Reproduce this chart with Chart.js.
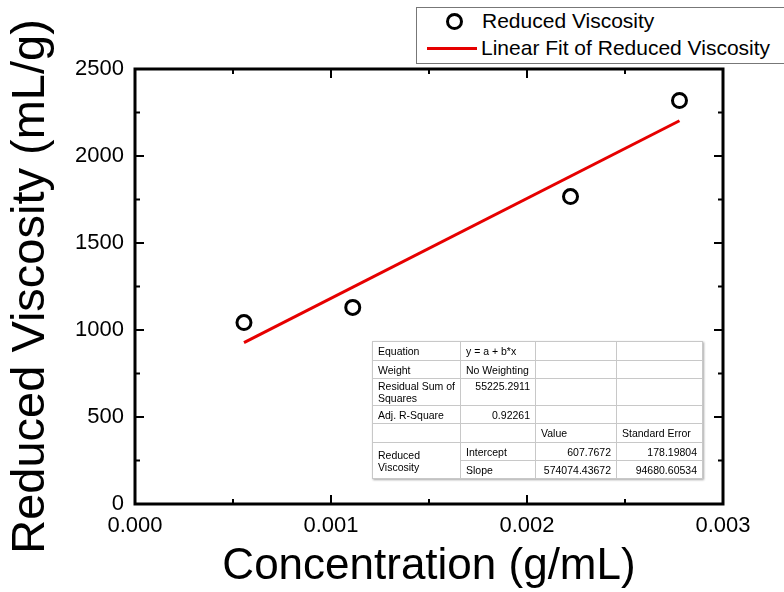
<!DOCTYPE html>
<html>
<head>
<meta charset="utf-8">
<title>Reduced Viscosity vs Concentration</title>
<script src="https://cdn.jsdelivr.net/npm/chart.js@4.4.1/dist/chart.umd.min.js"></script>
<style>
  html, body { margin: 0; padding: 0; background: #fff; }
  #wrap {
    position: relative; width: 784px; height: 592px; overflow: hidden;
    font-family: "Liberation Sans", Arial, sans-serif; color: #000;
  }
  #chart { position: absolute; left: 0; top: 0; }

  .legend {
    position: absolute; left: 416px; top: 7px; width: 400px; height: 55px;
    border: 1px solid #777; background: #fff;
  }
  .legend .mk {
    position: absolute; left: 29px; top: 5px; width: 17px; height: 17px;
    box-sizing: border-box; border: 3px solid #000; border-radius: 50%;
  }
  .legend .ln {
    position: absolute; left: 10px; top: 39px; width: 50px; height: 3px; background: #e60000;
  }
  .legend .lt {
    position: absolute; left: 65px; font-size: 21px; line-height: 24px; white-space: nowrap;
  }

  table.stats {
    position: absolute; left: 372px; top: 341px; width: 330px;
    border-collapse: collapse; table-layout: fixed; background: #fff;
    font-family: "Liberation Sans", Arial, sans-serif; font-size: 10.5px; line-height: 12px;
    border: 1px solid #999; box-shadow: 1px 1px 2px rgba(0,0,0,0.35);
  }
  table.stats td {
    border: 1px solid #c8c8c8; padding: 0 5px; white-space: nowrap; overflow: hidden;
    vertical-align: middle;
  }
  table.stats td.r { text-align: right; }
  table.stats td.top { vertical-align: top; padding-top: 1px; }
</style>
</head>
<body>
<div id="wrap">
  <canvas id="chart" width="784" height="592"></canvas>

  <div class="legend">
    <span class="mk"></span><span class="lt" style="top:1px">Reduced Viscosity</span>
    <span class="ln"></span><span class="lt" style="top:28px;left:64px">Linear Fit of Reduced Viscosity</span>
  </div>

  <table class="stats" id="stats">
    <colgroup><col style="width:88px"><col style="width:75px"><col style="width:81px"><col style="width:86px"></colgroup>
  </table>
</div>

<script>
// measured points
const concentration = [0.000556, 0.001111, 0.002222, 0.002778];   // g/mL
const reducedViscosity = [1043, 1130, 1767, 2319];                // mL/g

// linear fit results (y = a + b*x)
const intercept = 607.7672;
const slope = 574074.43672;
const interceptErr = 178.19804;
const slopeErr = 94680.60534;
const residualSS = '55225.2911';
const adjRSquare = '0.92261';

// axis ticks
const xTickValues = [0, 0.001, 0.002, 0.003];
const xTickLabels = ['0.000', '0.001', '0.002', '0.003'];
const xMinorValues = [0.0005, 0.0015, 0.0025];
const yTickValues = [0, 500, 1000, 1500, 2000, 2500];
const yTickLabels = ['0', '500', '1000', '1500', '2000', '2500'];
const yMinorValues = [250, 750, 1250, 1750, 2250];

// fit line spans the measured range
const fitX = [concentration[0], concentration[concentration.length - 1]];
const fitPoints = fitX.map(x => ({ x: x, y: intercept + slope * x }));

// stats table
const rows = [
  ['<td>Equation</td><td>y = a + b*x</td><td></td><td></td>', 19],
  ['<td>Weight</td><td>No Weighting</td><td></td><td></td>', 18],
  ['<td class="top">Residual Sum of<br>Squares</td><td class="r top">' + residualSS + '</td><td></td><td></td>', 27],
  ['<td>Adj. R-Square</td><td class="r">' + adjRSquare + '</td><td></td><td></td>', 18],
  ['<td></td><td></td><td>Value</td><td>Standard Error</td>', 19],
  ['<td rowspan="2">Reduced<br>Viscosity</td><td>Intercept</td><td class="r">' + intercept.toFixed(4) +
    '</td><td class="r">' + interceptErr.toFixed(5) + '</td>', 18],
  ['<td>Slope</td><td class="r">' + slope.toFixed(5) + '</td><td class="r">' + slopeErr.toFixed(5) + '</td>', 18]
];
const table = document.getElementById('stats');
rows.forEach(([html, h]) => {
  const tr = document.createElement('tr');
  tr.style.height = h + 'px';
  tr.innerHTML = html;
  table.appendChild(tr);
});

// frame on all four sides with inward major/minor ticks, mirrored
const frameTicks = {
  id: 'frameTicks',
  afterDraw(chart) {
    const { ctx, chartArea: a, scales } = chart;
    const xs = scales.x, ys = scales.y;
    ctx.save();
    ctx.strokeStyle = '#000';
    ctx.lineWidth = 2;
    const tick = (vals, len) => {
      vals.forEach(v => {
        const px = xs.getPixelForValue(v);
        ctx.beginPath();
        ctx.moveTo(px, a.bottom); ctx.lineTo(px, a.bottom - len);
        ctx.moveTo(px, a.top); ctx.lineTo(px, a.top + len);
        ctx.stroke();
      });
    };
    const ytick = (vals, len) => {
      vals.forEach(v => {
        const py = ys.getPixelForValue(v);
        ctx.beginPath();
        ctx.moveTo(a.left, py); ctx.lineTo(a.left + len, py);
        ctx.moveTo(a.right, py); ctx.lineTo(a.right - len, py);
        ctx.stroke();
      });
    };
    tick(xTickValues, 9);
    tick(xMinorValues, 5);
    ytick(yTickValues, 9);
    ytick(yMinorValues, 5);
    ctx.lineWidth = 3;
    ctx.strokeRect(a.left, a.top, a.right - a.left, a.bottom - a.top);
    ctx.restore();
  }
};

const tickFont = { family: '"Liberation Sans", Arial, sans-serif', size: 22 };

new Chart(document.getElementById('chart').getContext('2d'), {
  type: 'scatter',
  data: {
    datasets: [
      {
        label: 'Linear Fit of Reduced Viscosity',
        type: 'line',
        data: fitPoints,
        borderColor: '#e60000',
        borderWidth: 3,
        pointRadius: 0,
        fill: false
      },
      {
        label: 'Reduced Viscosity',
        data: concentration.map((c, i) => ({ x: c, y: reducedViscosity[i] })),
        pointStyle: 'circle',
        pointRadius: 7,
        borderWidth: 3,
        borderColor: '#000',
        backgroundColor: 'rgba(255,255,255,0)'
      }
    ]
  },
  options: {
    responsive: false,
    animation: false,
    layout: { padding: { top: 69, right: 61, left: 0, bottom: 0 } },
    plugins: { legend: { display: false }, tooltip: { enabled: false } },
    scales: {
      x: {
        type: 'linear',
        min: 0,
        max: 0.003,
        grid: { display: false, drawTicks: false },
        border: { display: false },
        afterBuildTicks: s => { s.ticks = xTickValues.map(v => ({ value: v })); },
        afterFit: s => { s.height = 88; },
        ticks: {
          autoSkip: false,
          maxRotation: 0,
          padding: 9,
          color: '#000',
          font: tickFont,
          callback: (v, i) => xTickLabels[i]
        },
        title: {
          display: true,
          text: 'Concentration (g/mL)',
          color: '#000',
          font: { family: '"Liberation Sans", Arial, sans-serif', size: 44, lineHeight: 1 },
          padding: { top: 0, bottom: 3 }
        }
      },
      y: {
        type: 'linear',
        min: 0,
        max: 2500,
        grid: { display: false, drawTicks: false },
        border: { display: false },
        afterBuildTicks: s => { s.ticks = yTickValues.map(v => ({ value: v })); },
        afterFit: s => { s.width = 135; },
        ticks: {
          autoSkip: false,
          padding: 11,
          color: '#000',
          font: tickFont,
          callback: (v, i) => yTickLabels[i]
        },
        title: {
          display: true,
          text: 'Reduced Viscosity (mL/g)',
          color: '#000',
          font: { family: '"Liberation Sans", Arial, sans-serif', size: 47, lineHeight: 1 },
          padding: { top: 8, bottom: 0 }
        }
      }
    }
  },
  plugins: [frameTicks]
});
</script>
</body>
</html>
